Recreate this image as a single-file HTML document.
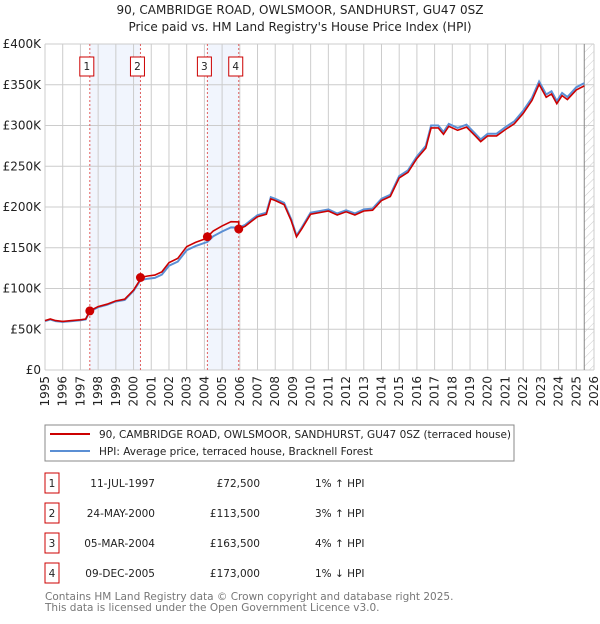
<!DOCTYPE html>
<html><head><meta charset="utf-8"><style>
body{margin:0;background:#fff;font-family:"DejaVu Sans","Liberation Sans",sans-serif;}
svg text{font-family:"DejaVu Sans","Liberation Sans",sans-serif;}
</style></head><body>
<svg id="c" width="600" height="620" viewBox="0 0 600 620" xmlns="http://www.w3.org/2000/svg">
<defs><pattern id="hatch" width="6" height="6" patternUnits="userSpaceOnUse" patternTransform="rotate(45)"><line x1="0" y1="0" x2="0" y2="6" stroke="#ccc" stroke-width="1"/></pattern></defs>
<text x="300" y="14" text-anchor="middle" font-size="12" fill="#222">90, CAMBRIDGE ROAD, OWLSMOOR, SANDHURST, GU47 0SZ</text>
<text x="300" y="31" text-anchor="middle" font-size="12" fill="#222">Price paid vs. HM Land Registry's House Price Index (HPI)</text>
<g id="grid"></g><g id="marks"></g><g id="axes"></g>
<rect x="45" y="425" width="469" height="36" fill="#fff" stroke="#888"/>
<line x1="50" y1="434" x2="90" y2="434" stroke="#cc0000" stroke-width="2"/>
<text x="99" y="438" font-size="10.5" fill="#222">90, CAMBRIDGE ROAD, OWLSMOOR, SANDHURST, GU47 0SZ (terraced house)</text>
<line x1="50" y1="451" x2="90" y2="451" stroke="#5b8fd4" stroke-width="2"/>
<text x="99" y="455" font-size="10.5" fill="#222">HPI: Average price, terraced house, Bracknell Forest</text>
<g id="table"></g>
<text x="45" y="600" font-size="10.5" fill="#777">Contains HM Land Registry data © Crown copyright and database right 2025.</text>
<text x="45" y="611" font-size="10.5" fill="#777">This data is licensed under the Open Government Licence v3.0.</text>
</svg>
<script>
const hpiYears=[1995.0,1995.3,1995.6,1996,1996.5,1997,1997.3,1997.53,1998,1998.5,1999,1999.5,2000,2000.39,2000.8,2001.2,2001.6,2002,2002.5,2003,2003.5,2004,2004.17,2004.5,2005,2005.5,2005.94,2006.3,2006.7,2007,2007.5,2007.75,2008,2008.5,2008.9,2009.2,2009.5,2010,2010.5,2011,2011.5,2012,2012.5,2013,2013.5,2014,2014.5,2015,2015.5,2016,2016.5,2016.8,2017.2,2017.5,2017.8,2018.3,2018.8,2019.3,2019.6,2020,2020.5,2021,2021.5,2022,2022.5,2022.9,2023.3,2023.6,2023.9,2024.2,2024.5,2025,2025.45];
const hpiValues=[60,62,60,59,60,61,62,71.8,77,80,84,86,97,110.2,112,113,117,128,133,147,152,156,157.2,164,170,175,174.7,178,185,190,193,212,210,205,185,165,175,193,195,197,192,196,192,197,198,210,215,238,245,262,275,300,300,292,302,297,301,290,283,290,290,298,305,318,334,354,338,342,330,340,335,347,352];
const saleYears=[1997.53,2000.39,2004.17,2005.94];
const salePrices=[72.5,113.5,163.5,173.0];
const saleLabels=["1","2","3","4"];
const saleDates=["11-JUL-1997","24-MAY-2000","05-MAR-2004","09-DEC-2005"];
const salePriceText=["£72,500","£113,500","£163,500","£173,000"];
const saleDiff=["1% ↑ HPI","3% ↑ HPI","4% ↑ HPI","1% ↓ HPI"];
const yTicks=[0,50,100,150,200,250,300,350,400];
const yTickLabels=["£0","£50K","£100K","£150K","£200K","£250K","£300K","£350K","£400K"];
const xTicks=[1995,1996,1997,1998,1999,2000,2001,2002,2003,2004,2005,2006,2007,2008,2009,2010,2011,2012,2013,2014,2015,2016,2017,2018,2019,2020,2021,2022,2023,2024,2025,2026];

const NS="http://www.w3.org/2000/svg";
const X0=45,X1=594,Y0=370,Y1=44;
const xs=y=>X0+(y-1995)/(2026-1995)*(X1-X0);
const ys=v=>Y0-v/400*(Y0-Y1);
function mk(tag,attrs,parent){const e=document.createElementNS(NS,tag);for(const k in attrs)e.setAttribute(k,attrs[k]);parent.appendChild(e);return e;}
const grid=document.getElementById('grid'),marks=document.getElementById('marks'),axes=document.getElementById('axes'),table=document.getElementById('table');
function hpiAt(t){for(let i=0;i<hpiYears.length-1;i++){if(t<=hpiYears[i+1]){const f=(t-hpiYears[i])/(hpiYears[i+1]-hpiYears[i]);return hpiValues[i]+f*(hpiValues[i+1]-hpiValues[i]);}}return hpiValues[hpiValues.length-1];}
for(const [a,b] of [[0,1],[2,3]]){const r=mk('rect',{x:xs(saleYears[a]),y:Y1,width:xs(saleYears[b])-xs(saleYears[a]),height:Y0-Y1,fill:'#eef3fc',opacity:0.8},grid);

}
const hx=xs(2025.45);
const hr=mk('rect',{x:hx,y:Y1,width:X1-hx,height:Y0-Y1,fill:'url(#hatch)'},grid);


for(const v of yTicks){const l=mk('line',{x1:X0,x2:X1,y1:ys(v),y2:ys(v),stroke:'#ccc'},grid);


const t=mk('text',{x:X0-4,y:ys(v)+4,'text-anchor':'end','font-size':'12',fill:'#222'},axes);t.textContent=yTickLabels[yTicks.indexOf(v)];

}
for(const yr of xTicks){const l=mk('line',{x1:xs(yr),x2:xs(yr),y1:Y1,y2:Y0,stroke:'#ccc'},grid);


const t=mk('text',{x:0,y:0,'text-anchor':'end','font-size':'12',fill:'#222',transform:`translate(${xs(yr)+4},${Y0+6}) rotate(-90)`},axes);t.textContent=yr;

}
const vl=mk('line',{x1:hx,x2:hx,y1:Y1,y2:Y0,stroke:'#888'},grid);


saleYears.forEach((s,i)=>{const l=mk('line',{x1:xs(s),x2:xs(s),y1:Y1,y2:Y0,stroke:'#e06060','stroke-dasharray':'2,2'},grid);


const bx=xs(s)-3;
const r=mk('rect',{x:bx-7,y:57,width:14,height:19,fill:'#fff',stroke:'#cc0000'},marks);


const t=mk('text',{x:bx,y:70,'text-anchor':'middle','font-size':'10.5',fill:'#222'},marks);t.textContent=saleLabels[i];

});
let d='';for(let i=0;i<hpiYears.length;i++)d+=(i?'L':'M')+xs(hpiYears[i]).toFixed(1)+','+ys(hpiValues[i]).toFixed(1);
const hp=mk('path',{d,fill:'none',stroke:'#5b8fd4','stroke-width':2},marks);


let pd='';const pts=[];
for(let i=0;i<hpiYears.length;i++){const t=hpiYears[i];let k=0;for(let j=0;j<saleYears.length;j++)if(t>=saleYears[j]-1e-6)k=j;pts.push([t,salePrices[k]*hpiValues[i]/hpiAt(saleYears[k])]);}
saleYears.forEach((s,j)=>{if(j>0)pts.push([s-0.001,salePrices[j-1]*hpiAt(s)/hpiAt(saleYears[j-1])]);});
pts.sort((a,b)=>a[0]-b[0]);
pts.forEach((p,i)=>pd+=(i?'L':'M')+xs(p[0]).toFixed(1)+','+ys(p[1]).toFixed(1));
const pp=mk('path',{d:pd,fill:'none',stroke:'#cc0000','stroke-width':1.6},marks);


saleYears.forEach((s,i)=>{const c=mk('circle',{cx:xs(s),cy:ys(salePrices[i]),r:4.5,fill:'#cc0000'},marks);

});
saleYears.forEach((s,i)=>{const cy=483+i*30;
const r=mk('rect',{x:45,y:cy-10,width:14,height:20,fill:'#fff',stroke:'#cc0000'},table);


const cells=[[52,'middle',saleLabels[i]],[155,'end',saleDates[i]],[260,'end',salePriceText[i]],[315,'start',saleDiff[i]]];
cells.forEach(c=>{const t=mk('text',{x:c[0],y:cy+4,'text-anchor':c[1],'font-size':'10.5',fill:'#222'},table);t.textContent=c[2];

});});
</script>
</body></html>
